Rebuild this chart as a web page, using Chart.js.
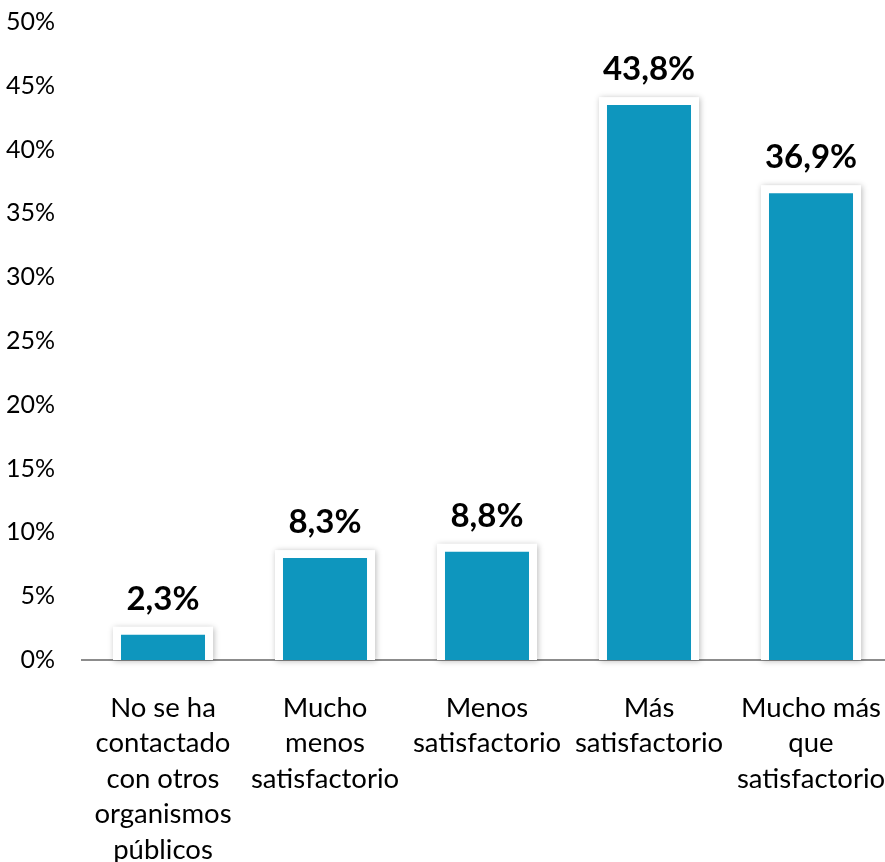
<!DOCTYPE html>
<html>
<head>
<meta charset="utf-8">
<script src="https://cdn.jsdelivr.net/npm/chart.js@4/dist/chart.umd.min.js"></script>
<style>
  html, body { margin: 0; padding: 0; background: #fff; overflow: hidden; }
  #wrap { width: 892px; height: 862px; position: relative; }
</style>
</head>
<body>
<div id="wrap"><canvas id="c"></canvas></div>
<script>
const categories = [
  ['No se ha', 'contactado', 'con otros', 'organismos', 'públicos'],
  ['Mucho', 'menos', 'satisfactorio'],
  ['Menos', 'satisfactorio'],
  ['Más', 'satisfactorio'],
  ['Mucho más', 'que', 'satisfactorio']
];
const values = [2.3, 8.3, 8.8, 43.8, 36.9];
const yTicks = [0, 5, 10, 15, 20, 25, 30, 35, 40, 45, 50];

const FONT = 'Lato, "Open Sans", sans-serif';
const fmt = v => v.toFixed(1).replace('.', ',') + '%';

// White frame with a soft shadow behind every bar, plus value labels on top
const framePlugin = {
  id: 'frame',
  beforeDatasetsDraw(chart) {
    const ctx = chart.ctx;
    const meta = chart.getDatasetMeta(0);
    ctx.save();
    ctx.shadowColor = 'rgba(0,0,0,0.28)';
    ctx.shadowBlur = 6;
    ctx.shadowOffsetX = 1;
    ctx.shadowOffsetY = 1;
    ctx.fillStyle = '#ffffff';
    meta.data.forEach(bar => {
      const half = bar.width / 2 + 4;
      ctx.fillRect(bar.x - half, bar.y - 4, half * 2, bar.base - bar.y + 4);
    });
    ctx.restore();
  },
  afterDatasetsDraw(chart) {
    const ctx = chart.ctx;
    const meta = chart.getDatasetMeta(0);
    ctx.save();
    ctx.fillStyle = '#000';
    ctx.font = 'bold 33px ' + FONT;
    ctx.textAlign = 'center';
    ctx.textBaseline = 'alphabetic';
    meta.data.forEach((bar, i) => {
      ctx.fillText(fmt(values[i]), bar.x, bar.y - 21);
    });
    ctx.restore();
  }
};

new Chart(document.getElementById('c'), {
  type: 'bar',
  data: {
    labels: categories,
    datasets: [{
      data: values,
      backgroundColor: '#0E96BE',
      borderColor: '#ffffff',
      borderWidth: 4,
      borderSkipped: 'start',
      barPercentage: 0.568,
      categoryPercentage: 1
    }]
  },
  options: {
    responsive: true,
    maintainAspectRatio: false,
    animation: false,
    layout: { padding: { top: 22, left: 0, right: 0, bottom: 0 } },
    plugins: { legend: { display: false }, tooltip: { enabled: false } },
    scales: {
      x: {
        grid: { display: false, drawTicks: false },
        border: { display: true, color: '#8c8c8c', width: 2 },
        ticks: {
          color: '#000',
          padding: 30,
          maxRotation: 0,
          autoSkip: false,
          font: { family: FONT, size: 27.5, lineHeight: 1.29 }
        },
        afterFit(scale) {
          scale.height = 202;
          scale.paddingLeft = 0;
          scale.paddingRight = 0;
        }
      },
      y: {
        min: 0,
        max: 50,
        grid: { display: false, drawTicks: false },
        border: { display: false },
        afterBuildTicks(scale) { scale.ticks = yTicks.map(v => ({ value: v })); },
        ticks: {
          color: '#000',
          padding: 27,
          callback: v => v + '%',
          font: { family: FONT, size: 25 }
        },
        afterFit(scale) {
          scale.width = 82;
          scale.paddingTop = 0;
          scale.paddingBottom = 0;
        }
      }
    }
  },
  plugins: [framePlugin]
});
</script>
</body>
</html>
